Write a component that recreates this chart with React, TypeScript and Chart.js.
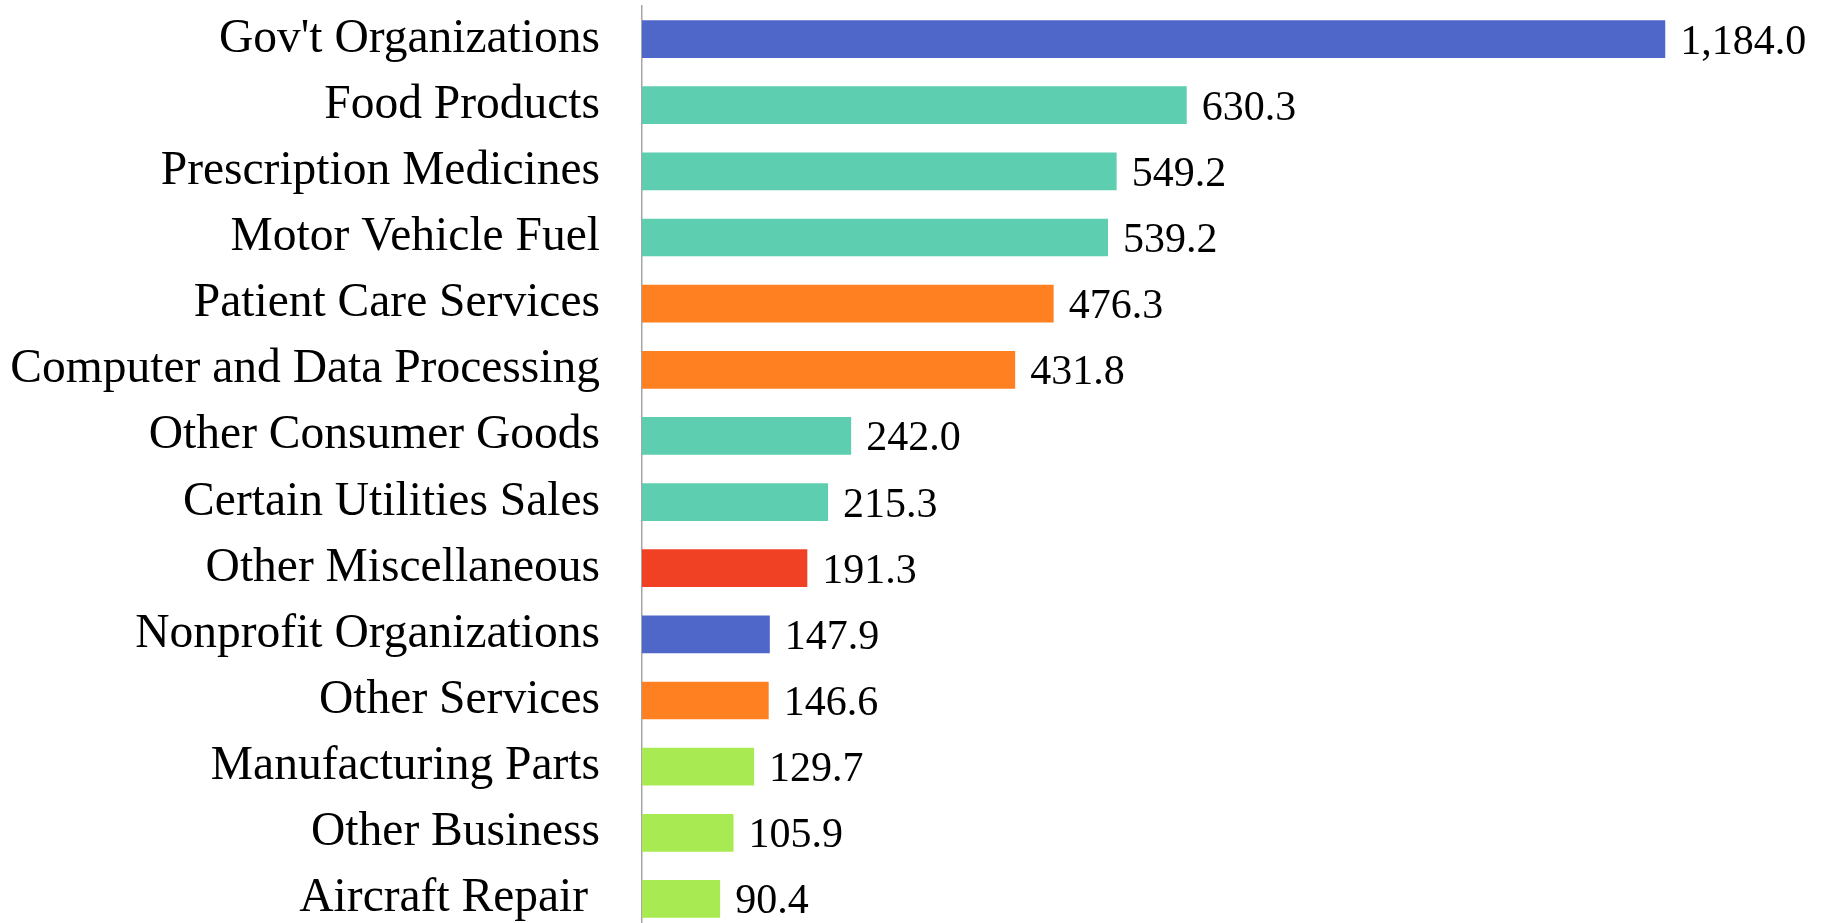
import React, { useEffect, useRef } from "react";
import { Chart, registerables } from "chart.js";

Chart.register(...registerables);

const categories = [
  "Gov't Organizations",
  "Food Products",
  "Prescription Medicines",
  "Motor Vehicle Fuel",
  "Patient Care Services",
  "Computer and Data Processing",
  "Other Consumer Goods",
  "Certain Utilities Sales",
  "Other Miscellaneous",
  "Nonprofit Organizations",
  "Other Services",
  "Manufacturing Parts",
  "Other Business",
  "Aircraft Repair ",
];

const values = [1184.0, 630.3, 549.2, 539.2, 476.3, 431.8, 242.0, 215.3, 191.3, 147.9, 146.6, 129.7, 105.9, 90.4];

const BLUE = "#4e67c8";
const TEAL = "#5dceaf";
const ORANGE = "#ff8021";
const RED = "#f14124";
const LIME = "#a7ea52";

const barColors = [BLUE, TEAL, TEAL, TEAL, ORANGE, ORANGE, TEAL, TEAL, RED, BLUE, ORANGE, LIME, LIME, LIME];

const valueLabelPlugin = {
  id: "valueLabels",
  afterDatasetsDraw(chart: any) {
    const ctx = chart.ctx;
    const meta = chart.getDatasetMeta(0);
    ctx.save();
    ctx.font = "42px 'Liberation Serif'";
    ctx.fillStyle = "#000";
    ctx.textAlign = "left";
    ctx.textBaseline = "middle";
    meta.data.forEach((bar: any, i: number) => {
      const v = values[i];
      const txt = v.toLocaleString("en-US", { minimumFractionDigits: 1, maximumFractionDigits: 1 });
      ctx.fillText(txt, bar.x + 15, bar.y + 3.5);
    });
    ctx.restore();
  },
};

export default function App() {
  const ref = useRef<HTMLCanvasElement | null>(null);

  useEffect(() => {
    if (!ref.current) return;
    const chart = new Chart(ref.current, {
      type: "bar",
      data: {
        labels: categories,
        datasets: [
          {
            data: values,
            backgroundColor: barColors,
            borderWidth: 0,
            barPercentage: 0.57,
            categoryPercentage: 1,
          },
        ],
      },
      options: {
        indexAxis: "y",
        animation: false,
        responsive: false,
        maintainAspectRatio: false,
        layout: { padding: { top: 6, right: 1, bottom: 0, left: 0 } },
        plugins: {
          legend: { display: false },
          tooltip: { enabled: false },
          title: { display: false },
        },
        scales: {
          x: {
            display: false,
            min: 0,
            max: 1370,
          },
          y: {
            position: "left",
            grid: { display: false, drawTicks: false },
            border: { display: true, color: "#a6a6a6", width: 1.5 },
            ticks: {
              color: "#000",
              padding: 42,
              font: { family: "'Liberation Serif'", size: 47.5 },
            },
            afterFit(scale: any) {
              scale.width = 642;
              scale.paddingTop = 0;
              scale.paddingBottom = 0;
            },
          },
        },
      },
      plugins: [valueLabelPlugin],
    });
    return () => chart.destroy();
  }, []);

  return (
    <div style={{ position: "absolute", left: 0, top: 0, width: 1827, height: 923, overflow: "hidden", background: "#fff" }}>
      <canvas ref={ref} width={1827} height={932} style={{ display: "block" }} />
    </div>
  );
}
